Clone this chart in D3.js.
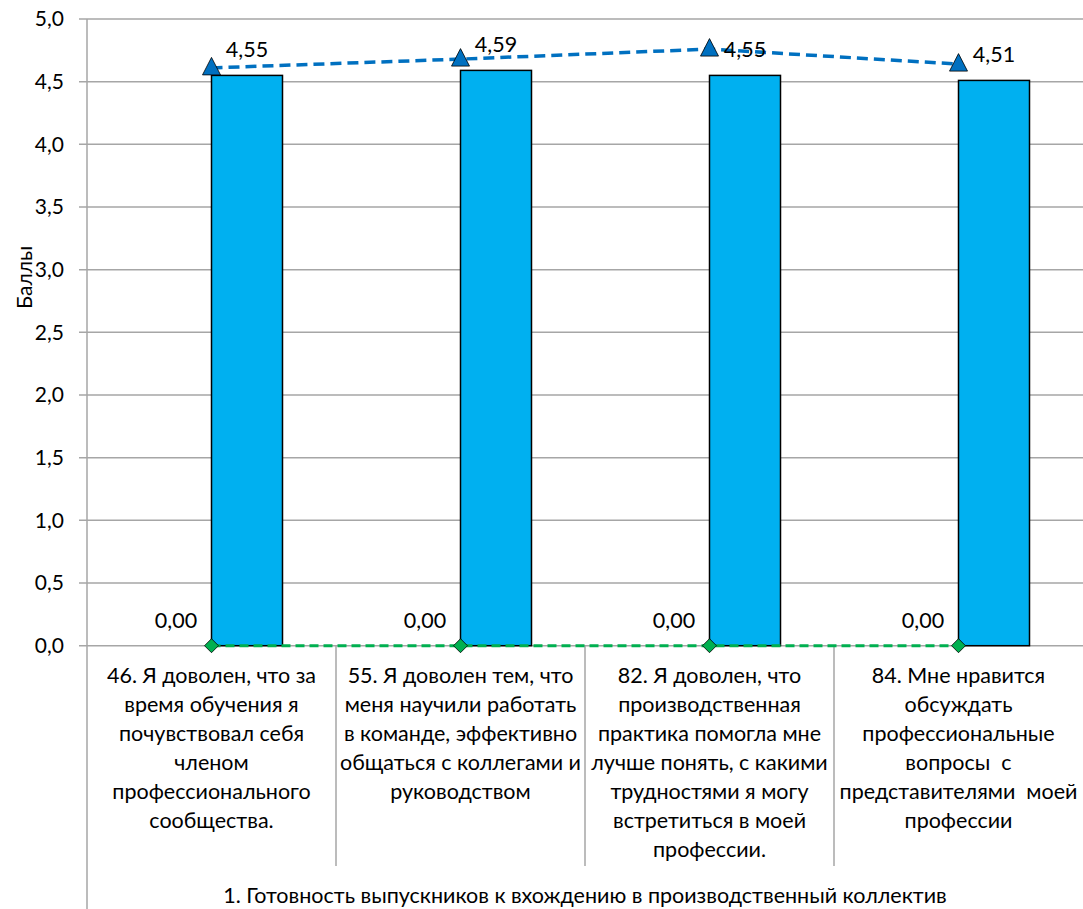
<!DOCTYPE html>
<html><head><meta charset="utf-8">
<script src="https://cdn.jsdelivr.net/npm/d3@7"></script>
<style>body{margin:0;background:#fff}svg{display:block;font-family:Lato,"Open Sans",sans-serif}</style>
</head><body><svg id="c" width="1083" height="909"></svg>
<script>
const categories = ["q46","q55","q82","q84"];
const categoryLabels = [
  ["46. Я доволен, что за","время обучения я","почувствовал себя","членом","профессионального","сообщества."],
  ["55. Я доволен тем, что","меня научили работать","в команде, эффективно","общаться с коллегами и","руководством"],
  ["82. Я доволен, что","производственная","практика помогла мне","лучше понять, с какими","трудностями я могу","встретиться в моей","профессии."],
  ["84. Мне нравится","обсуждать","профессиональные","вопросы  с","представителями  моей","профессии"]
];
const groupLabel = "1. Готовность выпускников к вхождению в производственный коллектив";
const zeroBarValues = [0, 0, 0, 0];
const barValues = [4.55, 4.59, 4.55, 4.51];
const triangleValues = [4.61, 4.68, 4.76, 4.64];
const diamondValues = [0, 0, 0, 0];
const yTicks = [0, 0.5, 1, 1.5, 2, 2.5, 3, 3.5, 4, 4.5, 5];
const yTitle = "Баллы";

const fmt2 = v => v.toFixed(2).replace(".", ",");
const fmt1 = v => v.toFixed(1).replace(".", ",");
const FS = 21.5;

const svg = d3.select("#c");
const L = 87, R = 1083, T = 19, B = 645.7;
const x = d3.scaleBand().domain(categories).range([L, R]).padding(0);
const y = d3.scaleLinear().domain([0, 5]).range([B, T]);
const barW = 71;
const cx = c => x(c) + x.bandwidth() / 2;

// gridlines
svg.append("g").selectAll("line").data(yTicks).join("line")
  .attr("x1", L - 8).attr("x2", R).attr("y1", d => y(d)).attr("y2", d => y(d))
  .attr("stroke", "#a6a6a6").attr("stroke-width", 1.5);

// y axis
const yAxis = d3.axisLeft(y).tickValues(yTicks).tickFormat(fmt1).tickSize(0).tickPadding(23);
const ya = svg.append("g").attr("transform", `translate(${L},0)`).call(yAxis);
ya.select(".domain").remove();
ya.selectAll("text").attr("font-size", 21).attr("fill", "#000").attr("font-family", "Lato");
svg.append("line").attr("x1", L).attr("x2", L).attr("y1", T).attr("y2", 909)
  .attr("stroke", "#a6a6a6").attr("stroke-width", 1.5);

svg.append("text").attr("transform", `translate(32,${(T + B) / 2 - 55}) rotate(-90)`)
  .attr("text-anchor", "middle").attr("font-size", 21).text(yTitle);

// category separators
svg.append("g").selectAll("line").data(categories.slice(1)).join("line")
  .attr("x1", d => x(d)).attr("x2", d => x(d)).attr("y1", B).attr("y2", 866)
  .attr("stroke", "#a6a6a6").attr("stroke-width", 1.5);

// category labels
categories.forEach((c, i) => {
  const t = svg.append("text").attr("text-anchor", "middle").attr("font-size", FS)
    .attr("xml:space", "preserve").style("white-space", "pre");
  categoryLabels[i].forEach((ln, j) => {
    t.append("tspan").attr("x", cx(c)).attr("y", 683 + j * 29).text(ln);
  });
});
svg.append("text").attr("x", (L + R) / 2).attr("y", 903).attr("text-anchor", "middle")
  .attr("font-size", FS).text(groupLabel);

// bars
svg.append("g").selectAll("rect").data(categories).join("rect")
  .attr("x", d => cx(d)).attr("width", barW)
  .attr("y", (d, i) => y(barValues[i])).attr("height", (d, i) => B - y(barValues[i]))
  .attr("fill", "#00b0f0").attr("stroke", "#000").attr("stroke-width", 1.5);

// lines
const line = d3.line().x((d, i) => cx(categories[i])).y(d => y(d));
svg.append("path").datum(diamondValues).attr("d", line).attr("fill", "none")
  .attr("stroke", "#00b050").attr("stroke-width", 3).attr("stroke-dasharray", "9,5");
svg.append("path").datum(triangleValues).attr("d", line).attr("fill", "none")
  .attr("stroke", "#0070c0").attr("stroke-width", 3.5).attr("stroke-dasharray", "11,6");

// markers
svg.append("g").selectAll("path").data(diamondValues).join("path")
  .attr("transform", (d, i) => `translate(${cx(categories[i])},${y(d)})`)
  .attr("d", "M0,-7L7,0L0,7L-7,0Z").attr("fill", "#00b050").attr("stroke", "#000").attr("stroke-width", 0.8);
svg.append("g").selectAll("path").data(triangleValues).join("path")
  .attr("transform", (d, i) => `translate(${cx(categories[i])},${y(d)})`)
  .attr("d", "M0,-10.5L9,7L-9,7Z").attr("fill", "#0070c0").attr("stroke", "#000").attr("stroke-width", 0.8);

// data labels
svg.append("g").selectAll("text").data(barValues).join("text")
  .attr("x", (d, i) => cx(categories[i]) + barW / 2).attr("y", d => y(d) - 18)
  .attr("text-anchor", "middle").attr("font-size", FS).text(fmt2);
svg.append("g").selectAll("text").data(zeroBarValues).join("text")
  .attr("x", (d, i) => cx(categories[i]) - barW / 2).attr("y", d => y(d) - 18)
  .attr("text-anchor", "middle").attr("font-size", FS).text(fmt2);
</script></body></html>
